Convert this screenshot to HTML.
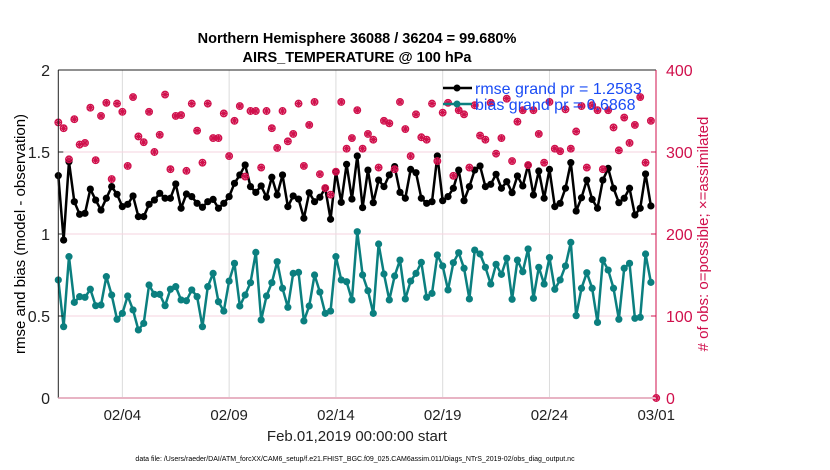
<!DOCTYPE html>
<html><head><meta charset="utf-8"><style>
body{margin:0;background:#fff;}
svg{display:block;font-family:"Liberation Sans",sans-serif;}
</style></head><body>
<svg id="chart" width="830" height="470" viewBox="0 0 830 470">
<text x="357" y="43" text-anchor="middle" font-size="14.5" font-weight="bold">Northern Hemisphere 36088 / 36204 = 99.680%</text>
<text x="357" y="62" text-anchor="middle" font-size="14.5" font-weight="bold">AIRS_TEMPERATURE @ 100 hPa</text>
<g id="grid"></g>
<g id="series"></g>
<g id="axes"></g>
<text transform="translate(25,234) rotate(-90)" text-anchor="middle" font-size="15">rmse and bias (model - observation)</text>
<text transform="translate(708,234) rotate(-90)" text-anchor="middle" font-size="15" fill="#d0104c"># of obs: o=possible; ×=assimilated</text>
<text x="357" y="441" text-anchor="middle" font-size="15" fill="#222">Feb.01,2019 00:00:00 start</text>
<text x="355" y="461" text-anchor="middle" font-size="7">data file: /Users/raeder/DAI/ATM_forcXX/CAM6_setup/f.e21.FHIST_BGC.f09_025.CAM6assim.011/Diags_NTrS_2019-02/obs_diag_output.nc</text>
<g>
<line x1="443" y1="88" x2="472" y2="88" stroke="#000" stroke-width="2.5"/>
<circle cx="457" cy="88" r="3.5" fill="#000"/>
<text x="475" y="94" font-size="16" fill="#1a4cf5">rmse grand pr = 1.2583</text>
<line x1="443" y1="104" x2="472" y2="104" stroke="#0b7f7f" stroke-width="2.5"/>
<circle cx="457" cy="104" r="3.5" fill="#0b7f7f"/>
<text x="475" y="110" font-size="16" fill="#1a4cf5">bias grand pr = 0.6868</text>
</g>
</svg>
<script>
const rmse=[1.356,0.963,1.441,1.197,1.12,1.126,1.274,1.207,1.146,1.218,1.289,1.242,1.167,1.181,1.232,1.106,1.106,1.181,1.207,1.248,1.218,1.218,1.305,1.157,1.244,1.228,1.187,1.163,1.197,
1.211,1.157,1.187,1.228,1.309,1.36,1.421,1.289,1.254,1.293,1.224,1.346,1.238,1.36,1.167,1.232,1.213,1.096,1.252,1.197,1.224,1.279,1.09,1.38,1.193,1.425,1.213,1.476,
1.161,1.39,1.191,1.329,1.289,1.36,1.411,1.254,1.218,1.394,1.374,1.218,1.187,1.197,1.476,1.203,1.228,1.279,1.39,1.203,1.289,1.39,1.415,1.289,1.303,1.364,1.279,1.319,
1.252,1.354,1.293,1.421,1.238,1.384,1.218,1.394,1.167,1.187,1.279,1.435,1.14,1.221,1.329,1.211,1.157,1.329,1.4,1.279,1.191,1.218,1.279,1.116,1.157,1.366,1.171];
const bias=[0.72,0.435,0.862,0.583,0.618,0.614,0.663,0.563,0.567,0.74,0.628,0.48,0.516,0.622,0.537,0.415,0.455,0.689,0.632,0.632,0.563,0.663,0.679,0.598,0.593,0.659,0.618,0.435,0.679,
0.76,0.587,0.53,0.713,0.821,0.561,0.628,0.703,0.888,0.476,0.622,0.703,0.831,0.669,0.553,0.76,0.766,0.47,0.561,0.75,0.646,0.516,0.53,0.862,0.72,0.709,0.598,1.014,
0.75,0.654,0.516,0.939,0.756,0.598,0.744,0.841,0.604,0.713,0.76,0.827,0.614,0.638,0.872,0.805,0.659,0.825,0.886,0.791,0.604,0.902,0.878,0.797,0.695,0.815,0.754,0.852,
0.602,0.841,0.77,0.909,0.608,0.797,0.695,0.856,0.663,0.72,0.805,0.949,0.502,0.669,0.764,0.669,0.461,0.841,0.78,0.669,0.48,0.791,0.821,0.486,0.492,0.878,0.705];
const obsCount=[336,329,291,340,309,311,354,290,344,360,267,359,349,283,367,319,312,349,300,321,370,279,344,345,277,359,326,287,359,
317,317,347,295,338,356,270,350,350,281,350,329,305,350,313,322,359,283,333,361,273,256,248,276,361,304,317,351,
304,322,315,281,338,335,279,361,328,295,346,318,315,359,289,348,360,271,351,346,281,357,320,315,360,298,317,365,
289,337,351,284,351,322,287,361,304,301,352,304,325,356,281,357,351,279,351,330,302,342,311,333,367,287,338,0];
const xTickLabels=["02/04","02/09","02/14","02/19","02/24","03/01"];
const xTickDays=[3,8,13,18,23,28];
const yTicksLeft=[0,0.5,1,1.5,2];
const yTicksRight=[0,100,200,300,400];

const NS="http://www.w3.org/2000/svg";
const X0=58.3,DAYPX=21.355,TOP=70,BOT=398;
function xDay(d){return X0+d*DAYPX;}
function xIdx(i){return xDay(i/4);}
function yL(v){return BOT-(v/2)*(BOT-TOP);}
function yR(v){return BOT-(v/400)*(BOT-TOP);}
function mk(tag,attrs,parent){const e=document.createElementNS(NS,tag);for(const k in attrs)e.setAttribute(k,attrs[k]);parent.appendChild(e);return e;}
const grid=document.getElementById('grid'),axes=document.getElementById('axes'),ser=document.getElementById('series');

xTickDays.forEach((d,k)=>{
  const x=xDay(d);
  if(k<xTickDays.length-1){const l=mk('line',{x1:x,y1:TOP,x2:x,y2:BOT,stroke:'#dcdcdc','stroke-width':1},grid);
  
  }
  const t=mk('text',{x:x,y:420,'text-anchor':'middle','font-size':15,fill:'#222'},axes);
  t.textContent=xTickLabels[k];
  
  
});
yTicksLeft.forEach(v=>{
  const y=yL(v);
  if(v>0&&v<2){const l=mk('line',{x1:X0,y1:y,x2:656,y2:y,stroke:'#f6d3df','stroke-width':1},grid);
  
  }
  const t=mk('text',{x:50,y:y+6,'text-anchor':'end','font-size':16,fill:'#222'},axes);
  t.textContent=String(v);
  
  
  mk('line',{x1:X0,y1:y,x2:X0+5,y2:y,stroke:'#222'},axes);
});
yTicksRight.forEach(v=>{
  const y=yR(v);
  const t=mk('text',{x:666,y:y+6,'font-size':16,fill:'#d0104c'},axes);
  t.textContent=String(v);
  
  
  mk('line',{x1:651,y1:y,x2:656,y2:y,stroke:'#d0104c'},axes);
});
mk('line',{x1:X0,y1:TOP,x2:656,y2:TOP,stroke:'#222'},axes);
mk('line',{x1:X0,y1:TOP,x2:X0,y2:BOT,stroke:'#222'},axes);
mk('line',{x1:X0,y1:BOT,x2:656,y2:BOT,stroke:'#e8b4c4','stroke-width':2},axes);
mk('line',{x1:656,y1:TOP,x2:656,y2:BOT,stroke:'#d0104c'},axes);

function line(vals,color,name){
  const p=mk('polyline',{points:vals.map((v,i)=>xIdx(i)+','+yL(v)).join(' '),fill:'none',stroke:color,'stroke-width':2.5,'stroke-linejoin':'round'},ser);
  
  
  vals.forEach((v,i)=>{
    const c=mk('circle',{cx:xIdx(i),cy:yL(v),r:3.6,fill:color},ser);
    
    
  });
}
line(rmse,'#000','rmse');
line(bias,'#0b7f7f','bias');
obsCount.forEach((v,i)=>{
  const x=xIdx(i),y=yR(v);
  const c=mk('circle',{cx:x,cy:y,r:3.3,fill:'none',stroke:'#d0104c','stroke-width':1.3},ser);
  
  
  const s=mk('path',{d:`M${x-3},${y}H${x+3}M${x},${y-3}V${y+3}M${x-2.2},${y-2.2}L${x+2.2},${y+2.2}M${x-2.2},${y+2.2}L${x+2.2},${y-2.2}`,stroke:'#d0104c','stroke-width':1.3},ser);
  
  
});
</script>
</body></html>
